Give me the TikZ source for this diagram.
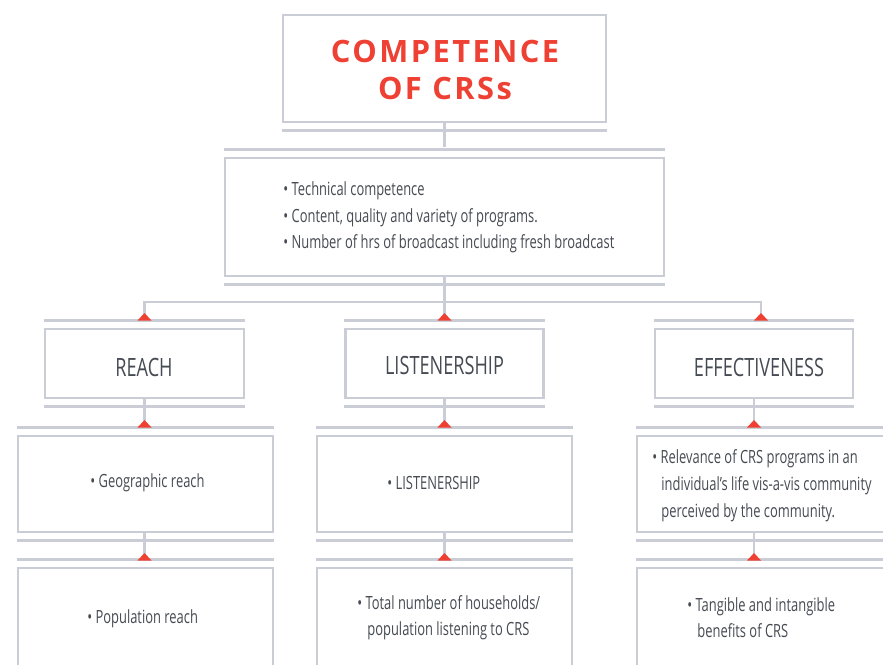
\documentclass[tikz,border=0pt]{standalone}
\usepackage{fontspec}
\setmainfont{Open Sans}
\newfontfamily\condfont{Open Sans}[FakeStretch=0.72]
\newfontfamily\bodyfont{Open Sans}[FakeStretch=0.71]
\newfontfamily\titlefont{Open Sans}[LetterSpace=8]
\definecolor{rulegray}{HTML}{CACDD5}
\definecolor{crsred}{HTML}{EE4134}
\definecolor{txt}{HTML}{464B53}
\newcommand\tipat[3]{%
  \coordinate (#1) at (#2,#3-5);}
\newcommand\drawtip[3]{%
  \fill[crsred] (#2-7,#3-1.5) -- (#2+7,#3-1.5) -- (#2,#3-9) -- cycle;}
\begin{document}
\begin{tikzpicture}[x=0.5pt,y=-0.5pt,
  box/.style={draw=rulegray,line width=1.3pt,rectangle,inner sep=0pt,fill=white},
  rulel/.style={draw=rulegray,line width=1.5pt},
  conn/.style={draw=rulegray,line width=1.1pt},
  lbl/.style={font=\condfont\fontsize{12.6}{15}\selectfont,text=txt,inner sep=0pt},
  body/.style={font=\bodyfont\fontsize{9.1}{11}\selectfont,text=txt,inner sep=0pt,anchor=base west}]
\useasboundingbox (0,0) rectangle (883,664);
\fill[white] (0,0) rectangle (883,664);
\clip (0,0) rectangle (883,664);

% boxes
\node[box,minimum width=161.5pt,minimum height=53.5pt] (top) at (444.5,68.5) {};
\node[box,minimum width=219.5pt,minimum height=59pt] (mid) at (444.5,217) {};
\node[box,minimum width=99.5pt,minimum height=34.5pt] (reach) at (144.5,363.5) {};
\node[box,minimum width=99pt,minimum height=34.5pt] (listen) at (444.5,363.5) {};
\node[box,minimum width=99pt,minimum height=34.5pt] (eff) at (754,363.5) {};
\node[box,minimum width=127.5pt,minimum height=48pt] (geo) at (145.5,484) {};
\node[box,minimum width=127.5pt,minimum height=48pt] (lis2) at (444.5,484) {};
\node[box,minimum width=127.5pt,minimum height=48pt] (rel) at (764.5,484) {};
\node[box,minimum width=127.5pt,minimum height=76pt] (pop) at (145.5,644) {};
\node[box,minimum width=127.5pt,minimum height=76pt] (tot) at (444.5,644) {};
\node[box,minimum width=127.5pt,minimum height=76pt] (tan) at (764.5,644) {};

% connector end points (at the red tips)
\tipat{treach}{144.5}{322}
\tipat{tlisten}{444.5}{322}
\tipat{teff}{761}{322}
\tipat{tgeo}{144.5}{429}
\tipat{tlis2}{444.5}{429}
\tipat{trel}{754}{429}
\tipat{tpop}{144.5}{562}
\tipat{ttot}{444.5}{562}
\tipat{ttan}{754}{562}
\coordinate (bus) at (444.5,302);
\coordinate (midin) at (444.5,147);

\draw[conn] (top.south) -- (midin);
\draw[conn] (mid.south) -- (tlisten);
\draw[conn] (treach) |- (bus) -| (teff);
\draw[conn] (reach.south) -- (tgeo);
\draw[conn] (listen.south) -- (tlis2);
\draw[conn] (eff.south) -- (trel);
\draw[conn] (rel.south -| eff.south) -- (ttan);
\draw[conn] (geo.south -| reach.south) -- (tpop);
\draw[conn] (lis2.south) -- (ttot);

% rules above and below the boxes
\foreach \b in {mid,reach,listen,eff,geo,lis2,rel,pop,tot,tan}
  \draw[rulel] ([yshift=3.5pt]\b.north west) -- ([yshift=3.5pt]\b.north east);
\foreach \b in {top,mid,reach,listen,eff,geo,lis2,rel}
  \draw[rulel] ([yshift=-3.5pt]\b.south west) -- ([yshift=-3.5pt]\b.south east);

% red tips sitting on the rules
\drawtip{}{144.5}{322}
\drawtip{}{444.5}{322}
\drawtip{}{761}{322}
\drawtip{}{144.5}{429}
\drawtip{}{444.5}{429}
\drawtip{}{754}{429}
\drawtip{}{144.5}{562}
\drawtip{}{444.5}{562}
\drawtip{}{754}{562}

% texts
\node[font=\titlefont\bfseries\fontsize{15.4}{18.5}\selectfont,text=crsred,align=center,inner sep=0pt] (title) at (445,70) {COMPETENCE\\OF CRSs};

\node[body] (m1) at (283,195) {\textbullet\ Technical competence};
\node[body] (m2) at (283,222) {\textbullet\ Content, quality and variety of programs.};
\node[body] (m3) at (283,248) {\textbullet\ Number of hrs of broadcast including fresh broadcast};

\node[lbl] (lreach) at (144,367) {REACH};
\node[lbl] (llisten) at (444.5,365) {LISTENERSHIP};
\node[lbl] (leff) at (759,367) {EFFECTIVENESS};

\node[body] (g1) at (90,487) {\textbullet\ Geographic reach};
\node[body] (l1) at (387,489) {\textbullet\ LISTENERSHIP};
\node[body] (r1) at (652,463) {\textbullet\ Relevance of CRS programs in an};
\node[body] (r2) at (661,490) {individual’s life vis-a-vis community};
\node[body] (r3) at (661,517) {perceived by the community.};

\node[body] (p1) at (87,623) {\textbullet\ Population reach};
\node[body] (h1) at (357,609) {\textbullet\ Total number of households/};
\node[body] (h2) at (367,635) {population listening to CRS};
\node[body] (b1) at (687,611) {\textbullet\ Tangible and intangible};
\node[body] (b2) at (697,637) {benefits of CRS};
\end{tikzpicture}
\end{document}
